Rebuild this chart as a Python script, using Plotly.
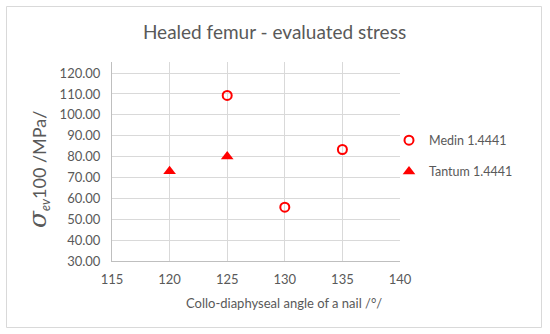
import plotly.graph_objects as go

medin_x = [125, 130, 135]
medin_y = [109.3, 55.8, 83.4]
tantum_x = [120, 125]
tantum_y = [73.0, 80.0]
x_ticks = [115, 120, 125, 130, 135, 140]
y_ticks = [30, 40, 50, 60, 70, 80, 90, 100, 110, 120]

TXT = "#595959"
GRID = "#d9d9d9"
FONT = "Lato, Open Sans, sans-serif"

fig = go.Figure()
fig.add_trace(go.Scatter(x=medin_x, y=medin_y, mode="markers", name="Medin 1.4441",
                         legendgroup="a",
                         marker=dict(symbol="circle-open", size=9, color="#ff0000",
                                     line=dict(width=2, color="#ff0000"))))
fig.add_trace(go.Scatter(x=tantum_x, y=tantum_y, mode="markers", name="Tantum 1.4441",
                         legendgroup="b",
                         marker=dict(symbol="triangle-up", size=11, color="#ff0000")))

W, H = 550, 334
L, R, T, B = 112, 400, 62, 261
def px(x):
    return (x - L) / (R - L)
def py(y):
    return (B - y) / (B - T)

fig.update_layout(
    width=W, height=H,
    margin=dict(l=L, r=W - R, t=T, b=H - B, autoexpand=False),
    paper_bgcolor="white", plot_bgcolor="white",
    font=dict(family=FONT, color=TXT, size=12),
    showlegend=True,
    legend=dict(x=px(389), xanchor="left", y=py(156), yanchor="middle",
                font=dict(size=12.5, color=TXT), tracegroupgap=12,
                bgcolor="rgba(0,0,0,0)", itemwidth=30),
    title=dict(text="Healed femur - evaluated stress", x=274.5 / W, xanchor="center",
               xref="container", y=1 - 32 / H, yanchor="middle",
               font=dict(size=19, color=TXT, family=FONT)),
    xaxis=dict(range=[115, 140], tickvals=x_ticks, ticktext=[str(v) for v in x_ticks],
               showgrid=True, gridcolor=GRID, gridwidth=1, zeroline=False,
               showline=True, linecolor="#bfbfbf", linewidth=1, automargin=False,
               ticks="outside", ticklen=6, tickcolor="rgba(0,0,0,0)",
               tickfont=dict(size=13, color=TXT)),
    yaxis=dict(range=[30, 125.3], tickvals=y_ticks, ticktext=[f"{v:.2f}" for v in y_ticks],
               showgrid=True, gridcolor=GRID, gridwidth=1, zeroline=False,
               showline=True, linecolor="#bfbfbf", linewidth=1, automargin=False,
               ticks="outside", ticklen=8, tickcolor="rgba(0,0,0,0)",
               tickfont=dict(size=13, color=TXT)),
    annotations=[
        dict(text="<span style='font-size:25px;font-family:DejaVu Serif'><i>σ</i></span>"
                  "<sub><i>ev</i></sub>100 /MPa/", xref="paper", yref="paper",
             x=px(38), y=py(170), textangle=-90, showarrow=False,
             font=dict(size=18, color=TXT, family=FONT), xanchor="center", yanchor="middle"),
        dict(text="Collo-diaphyseal angle of a nail /°/", xref="paper", yref="paper",
             x=px(284), y=py(303), showarrow=False,
             font=dict(size=13, color=TXT, family=FONT), xanchor="center", yanchor="middle"),
    ],
    shapes=[dict(type="rect", xref="paper", yref="paper",
                 x0=px(6.5), x1=px(541.5), y0=py(327.5), y1=py(6.5),
                 line=dict(color=GRID, width=1), fillcolor="rgba(0,0,0,0)", layer="above")],
)

fig.write_html("out.html", config={"displayModeBar": False},
               post_script="document.body.style.margin='0';")
